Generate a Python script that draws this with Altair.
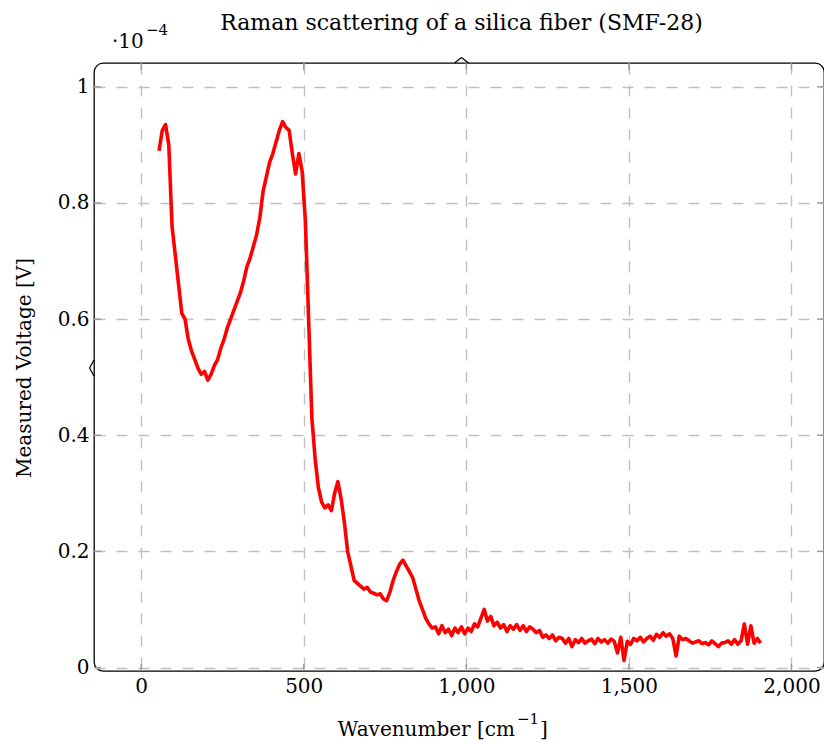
import altair as alt
import pandas as pd

# Wavenumber [cm^-1]
wavenumber = [
    55, 65, 75, 85, 95, 105, 115, 125, 135, 145,
    155, 165, 175, 185, 195, 205, 215, 225, 235, 245,
    255, 265, 275, 285, 295, 305, 315, 325, 335, 345,
    355, 365, 375, 385, 395, 405, 415, 425, 435, 445,
    455, 465, 475, 485, 495, 505, 515, 525, 535, 545,
    555, 565, 575, 585, 595, 605, 615, 625, 635, 645,
    655, 665, 675, 685, 695, 705, 715, 725, 735, 745,
    755, 765, 775, 785, 795, 805, 815, 825, 835, 845,
    855, 865, 875, 885, 895, 905, 915, 925, 935, 945,
    955, 965, 975, 985, 995, 1005, 1015, 1025, 1035, 1045,
    1055, 1065, 1075, 1085, 1095, 1105, 1115, 1125, 1135, 1145,
    1155, 1165, 1175, 1185, 1195, 1205, 1215, 1225, 1235, 1245,
    1255, 1265, 1275, 1285, 1295, 1305, 1315, 1325, 1335, 1345,
    1355, 1365, 1375, 1385, 1395, 1405, 1415, 1425, 1435, 1445,
    1455, 1465, 1475, 1485, 1495, 1505, 1515, 1525, 1535, 1545,
    1555, 1565, 1575, 1585, 1595, 1605, 1615, 1625, 1635, 1645,
    1655, 1665, 1675, 1685, 1695, 1705, 1715, 1725, 1735, 1745,
    1755, 1765, 1775, 1785, 1795, 1805, 1815, 1825, 1835, 1845,
    1855, 1865, 1875, 1885, 1895, 1905,
]

# Measured voltage in units of 1e-4 V
voltage = [
    0.89, 0.925, 0.935, 0.90, 0.76, 0.71, 0.66, 0.61, 0.60, 0.565,
    0.545, 0.53, 0.515, 0.505, 0.51, 0.495, 0.505, 0.52, 0.53, 0.55,
    0.565, 0.585, 0.60, 0.615, 0.63, 0.645, 0.665, 0.69, 0.705, 0.725,
    0.745, 0.775, 0.82, 0.845, 0.87, 0.885, 0.905, 0.925, 0.94, 0.93,
    0.925, 0.885, 0.85, 0.885, 0.855, 0.77, 0.60, 0.43, 0.36, 0.31,
    0.285, 0.275, 0.28, 0.27, 0.30, 0.32, 0.29, 0.25, 0.20, 0.175,
    0.15, 0.145, 0.14, 0.135, 0.138, 0.13, 0.128, 0.125, 0.127, 0.118,
    0.115, 0.13, 0.15, 0.165, 0.178, 0.185, 0.175, 0.165, 0.155, 0.135,
    0.115, 0.10, 0.085, 0.075, 0.068, 0.07, 0.058, 0.072, 0.06, 0.066,
    0.055, 0.068, 0.06, 0.07, 0.058, 0.068, 0.062, 0.075, 0.07, 0.085,
    0.1, 0.08, 0.088, 0.072, 0.078, 0.068, 0.074, 0.062, 0.072, 0.066,
    0.074, 0.064, 0.072, 0.062, 0.07, 0.066, 0.06, 0.064, 0.052, 0.056,
    0.05, 0.056, 0.046, 0.052, 0.05, 0.042, 0.05, 0.036, 0.048, 0.043,
    0.05, 0.042, 0.046, 0.049, 0.041, 0.05, 0.044, 0.048, 0.042, 0.049,
    0.045, 0.025, 0.052, 0.012, 0.045, 0.04, 0.05, 0.046, 0.052, 0.044,
    0.05, 0.054, 0.047, 0.057, 0.052, 0.06, 0.054, 0.058, 0.05, 0.02,
    0.054, 0.048, 0.05, 0.046, 0.042, 0.044, 0.046, 0.041, 0.043, 0.039,
    0.046, 0.041, 0.036, 0.042, 0.043, 0.046, 0.04, 0.048, 0.04, 0.046,
    0.075, 0.04, 0.072, 0.042, 0.05, 0.042,
]

x_ticks = [0, 500, 1000, 1500, 2000]
y_ticks = [0, 0.2, 0.4, 0.6, 0.8, 1]

title_text = "Raman scattering of a silica fiber (SMF-28)"
scale_base, scale_exp = "·10", "−4"
x_title_base, x_title_exp, x_title_end = "Wavenumber [cm", "−1", "]"
y_title = "Measured Voltage [V]"

W, H = 730, 608
FONT = "DejaVu Serif"
GRID = "#c0c0c0"
TICK = "#9a9a9a"

df = pd.DataFrame({"wn": wavenumber, "v": voltage})
xt = pd.DataFrame({"wn": x_ticks})
yt = pd.DataFrame({"v": y_ticks})
one = pd.DataFrame({"a": [0]})

xscale = alt.Scale(domain=[-145, 2100], nice=False, zero=False)
yscale = alt.Scale(domain=[-0.006, 1.041], nice=False, zero=False)

xaxis = alt.Axis(values=x_ticks, labelExpr="format(datum.value, ',')", grid=True,
                 labelPadding=5, labelFont=FONT, labelFontSize=20)
yaxis = alt.Axis(values=y_ticks, labelExpr="format(datum.value, '~g')", grid=True,
                 labelPadding=5, labelFont=FONT, labelFontSize=20)

line = alt.Chart(df).mark_line(color="#ff0000", strokeWidth=3.6, strokeJoin="round").encode(
    x=alt.X("wn:Q", scale=xscale, title=None, axis=xaxis),
    y=alt.Y("v:Q", scale=yscale, title=None, axis=yaxis),
)

xtick_top = alt.Chart(xt).mark_rule(color=TICK, strokeWidth=1.4).encode(
    x=alt.X("wn:Q", scale=xscale, title=None, axis=xaxis), y=alt.value(0), y2=alt.value(7))
xtick_bot = alt.Chart(xt).mark_rule(color=TICK, strokeWidth=1.4).encode(
    x=alt.X("wn:Q", scale=xscale, title=None, axis=xaxis), y=alt.value(H - 7), y2=alt.value(H))
ytick_l = alt.Chart(yt).mark_rule(color=TICK, strokeWidth=1.4).encode(
    y=alt.Y("v:Q", scale=yscale, title=None, axis=yaxis), x=alt.value(0), x2=alt.value(7))
ytick_r = alt.Chart(yt).mark_rule(color=TICK, strokeWidth=1.4).encode(
    y=alt.Y("v:Q", scale=yscale, title=None, axis=yaxis), x=alt.value(W - 7), x2=alt.value(W))

def seg(x1, y1, x2, y2):
    return alt.Chart(one).mark_rule(color="black", strokeWidth=1.3).encode(
        x=alt.value(x1), y=alt.value(y1), x2=alt.value(x2), y2=alt.value(y2))

tipx = 367.5
brace = [
    seg(tipx - 7, 0, tipx, -5.5), seg(tipx, -5.5, tipx + 7, 0),
    seg(0, 297, -4.5, 305), seg(-4.5, 305, 0, 313),
]

def txt(s, x, y, size, align="left", angle=0, baseline="alphabetic"):
    return alt.Chart(one).mark_text(font=FONT, fontSize=size, align=align,
                                    baseline=baseline, color="black", angle=angle).encode(
        x=alt.value(x), y=alt.value(y), text=alt.value(s))

texts = [
    txt(title_text, tipx, -33, 22, align="center"),
    txt(scale_base, 18, -15, 20),
    txt(scale_exp, 52, -28, 15),
    txt(x_title_base, 421, 673, 20, align="right"),
    txt(x_title_exp, 423, 661, 15),
    txt(x_title_end, 446, 673, 20),
    txt(y_title, -69, 305, 20, align="center", angle=270, baseline="middle"),
]

chart = alt.layer(line, xtick_top, xtick_bot, ytick_l, ytick_r, *brace, *texts).properties(
    width=W, height=H,
    background="white",
    autosize=alt.AutoSizeParams(type="none"),
    padding={"left": 94, "top": 63, "right": 0, "bottom": 71},
).configure_view(
    stroke="black", strokeWidth=1.3, cornerRadius=9,
).configure_axis(
    domain=False, ticks=False,
    gridColor=GRID, gridWidth=1.4, gridDash=[11, 11],
    labelFont=FONT, labelFontSize=20, labelColor="black",
)

chart.save("out.html", embed_options={"renderer": "svg", "actions": False})
